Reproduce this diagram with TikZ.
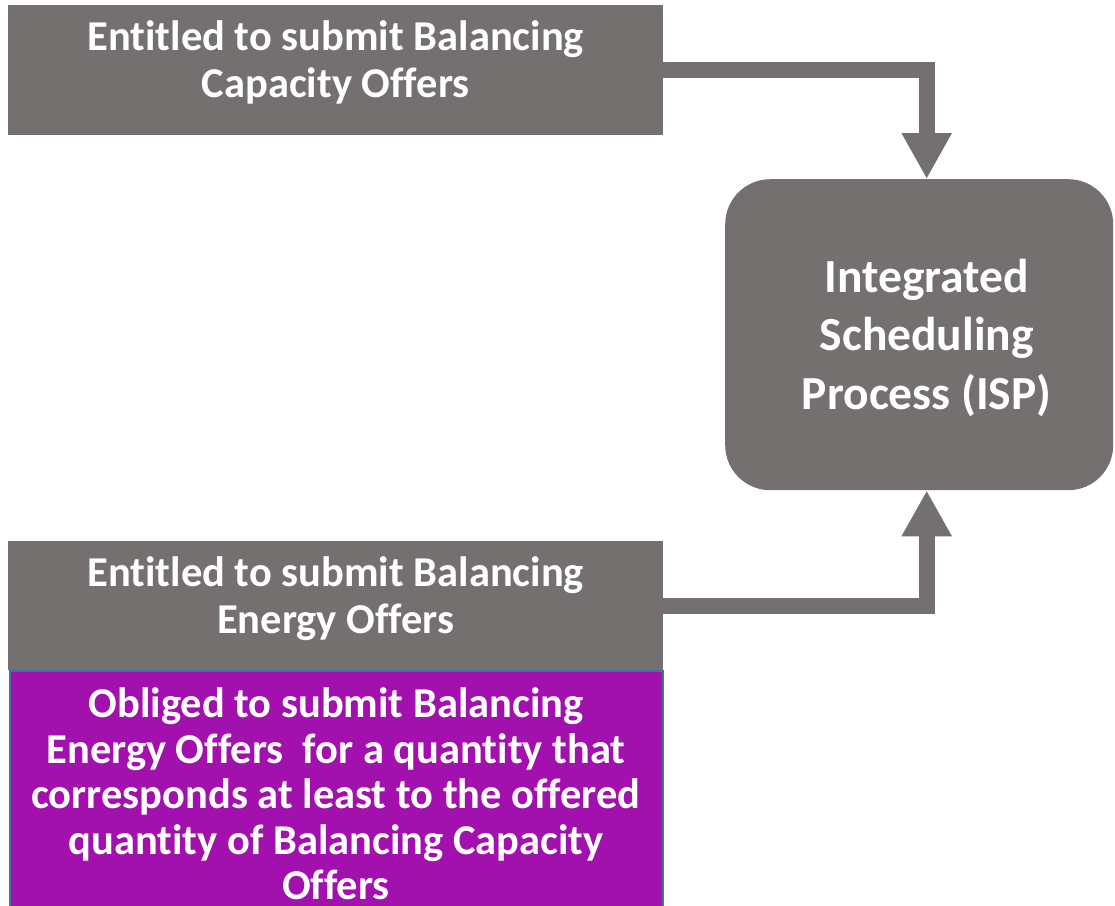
\documentclass[tikz,border=0pt]{standalone}
\usepackage{fontspec}
\setmainfont{Carlito}[Ligatures=NoCommon]
\usetikzlibrary{arrows.meta}

\definecolor{boxgray}{RGB}{116,112,111}
\definecolor{oblpurple}{RGB}{162,16,174}
\definecolor{edgeblue}{RGB}{65,113,156}

\begin{document}
\begin{tikzpicture}[x=1pt,y=-1pt,
    graybox/.style={rectangle,fill=boxgray,inner sep=0pt,anchor=north west},
    boxtext/.style={text=white,font=\bfseries\fontsize{42.5}{47}\selectfont,align=center},
    flow/.style={draw=boxgray,line width=16pt,line join=miter,
        -{Triangle[width=47pt,length=46pt]}}]

    \useasboundingbox (0,0) rectangle (1115,905);

    % boxes
    \node[graybox,minimum width=655,minimum height=130] (capacity) at (8,5) {};
    \node[graybox,minimum width=388,minimum height=311,rounded corners=45pt] (isp) at (725,179) {};
    \node[graybox,minimum width=655,minimum height=129] (energy) at (8,541) {};
    \node[graybox,fill=oblpurple,draw=edgeblue,line width=1.5pt,
        minimum width=653,minimum height=250] (obliged) at (9,670) {};

    % texts
    \node[boxtext] (capacitytext) at ([yshift=7.5pt]capacity.center)
        {Entitled to submit Balancing\\Capacity Offers};
    \node[boxtext,font=\bfseries\fontsize{47.5}{58.5}\selectfont] (isptext) at ([xshift=7.5pt,yshift=-3pt]isp.center)
        {Integrated\\Scheduling\\Process (ISP)};
    \node[boxtext] (energytext) at ([yshift=7pt]energy.center)
        {Entitled to submit Balancing\\Energy Offers};
    \node[boxtext,font=\bfseries\fontsize{42.5}{45.5}\selectfont] (obligedtext) at (336,794)
        {Obliged to submit Balancing\\Energy Offers\ \ for a quantity that\\corresponds at least to the offered\\quantity of Balancing Capacity\\Offers};

    % arrows
    \draw[flow] (capacity.east) -| ([xshift=7.5pt]isp.north);
    \draw[flow] (energy.east) -| ([xshift=7.5pt]isp.south);
\end{tikzpicture}
\end{document}
